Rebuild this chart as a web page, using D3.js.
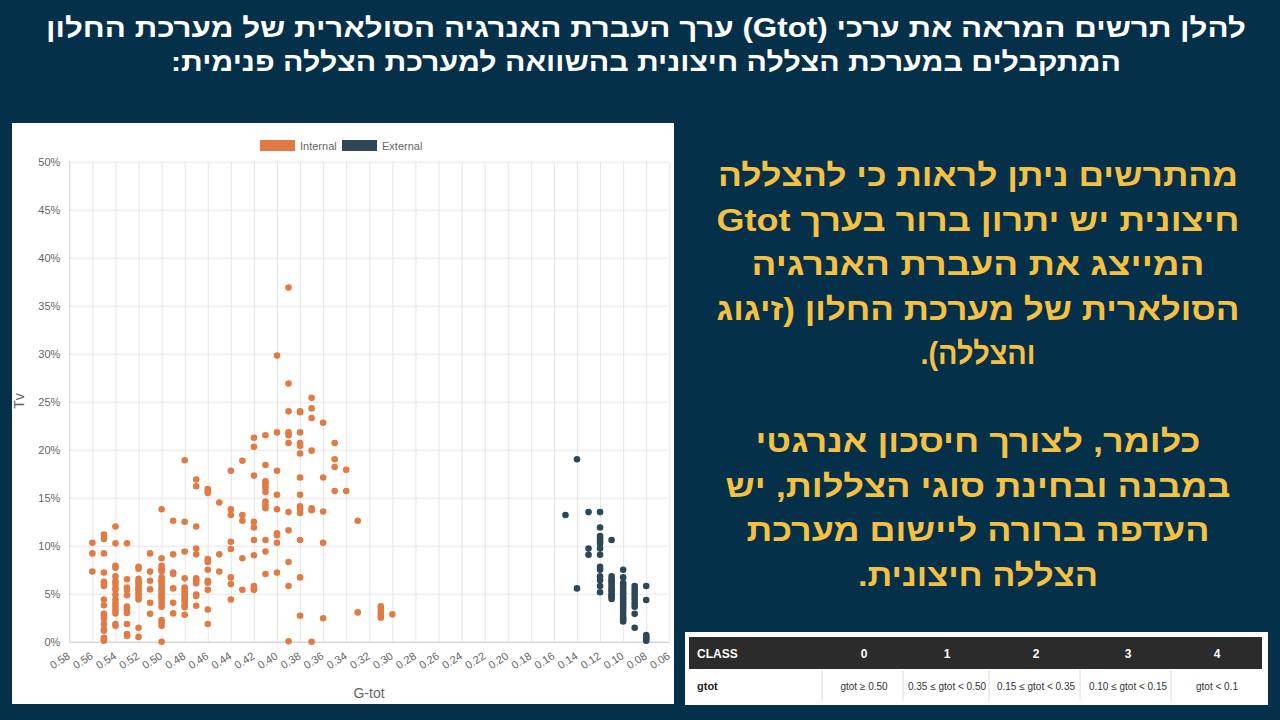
<!DOCTYPE html>
<html>
<head>
<meta charset="utf-8">
<script src="https://cdn.jsdelivr.net/npm/d3@7"></script>
<style>
  body { margin: 0; background: #05304a; }
  svg { display: block; }
  .tick text { font-family: "Liberation Sans", Arial, sans-serif; font-size: 11px; fill: #666; }
  .heb { font-family: "Liberation Sans", Arial, sans-serif; font-weight: bold; }
</style>
</head>
<body>
<div id="chart"></div>
<script>
// G-tot columns and the Tv (%) values read at each column
const internalGtot = [0.56, 0.55, 0.54, 0.53, 0.52, 0.51, 0.50, 0.49, 0.48, 0.47, 0.46, 0.45, 0.44, 0.43,
                      0.42, 0.41, 0.40, 0.39, 0.38, 0.37, 0.36, 0.35, 0.34, 0.33, 0.31, 0.30];
const internalTv = [
  [10.3, 9.2, 7.3],
  [11.15, 10.7, 9.2, 7.2, 6.25, 6.0, 5.8, 4.4, 3.8, 2.9, 2.7, 2.4, 1.85, 1.3, 1.15, 0.4, 0.25, 0.1],
  [12.0, 10.25, 7.9, 7.7, 6.8, 6.3, 6.0, 5.6, 5.4, 4.9, 4.4, 4.0, 3.65, 3.3, 2.95, 1.85, 1.65],
  [10.25, 6.5, 5.65, 5.4, 4.85, 3.65, 3.4, 3.0, 1.85, 0.8, 0.6],
  [7.8, 7.6, 6.55, 6.3, 6.1, 5.8, 5.55, 5.3, 5.0, 4.7, 4.4, 1.45, 0.5],
  [9.2, 7.3, 6.35, 5.45, 4.05, 2.9],
  [13.8, 8.7, 7.9, 7.6, 7.35, 6.7, 6.4, 6.15, 5.9, 5.65, 5.4, 5.15, 4.85, 4.6, 4.35, 4.0, 3.65, 2.25, 2.0, 1.65, 0.0],
  [12.6, 9.1, 7.2, 7.05, 5.55, 4.05, 2.95],
  [18.9, 12.5, 9.4, 6.6, 5.65, 5.45, 5.2, 4.95, 4.7, 4.4, 4.2, 3.8, 3.6, 2.8],
  [16.9, 16.2, 12.0, 9.7, 9.1, 6.6, 6.4, 6.1, 4.9, 4.75, 3.75],
  [15.9, 15.7, 15.5, 8.6, 8.3, 7.5, 6.35, 6.15, 5.4, 3.35, 1.85],
  [14.5, 9.1, 7.3],
  [17.8, 13.8, 13.2, 10.4, 9.65, 6.7, 6.0, 4.4],
  [18.85, 13.2, 12.6, 8.7, 5.4],
  [21.25, 20.3, 17.3, 12.5, 11.9, 10.6, 9.0, 5.8, 5.55, 5.4],
  [21.5, 18.4, 16.7, 16.5, 16.25, 16.0, 15.6, 14.6, 14.25, 13.9, 10.6, 9.4, 7.05],
  [29.8, 21.8, 17.8, 15.3, 13.8, 11.3, 11.1, 10.3, 7.2],
  [36.9, 26.9, 24.0, 21.8, 21.5, 20.7, 13.5, 11.6, 8.3, 5.8, 0.05],
  [24.0, 23.9, 21.8, 20.7, 20.4, 19.6, 17.1, 15.3, 14.1, 13.8, 13.4, 10.6, 6.7, 2.7],
  [25.4, 24.3, 23.3, 19.9, 13.9, 13.7, 0.0],
  [22.8, 17.1, 13.55, 10.3, 2.45],
  [20.7, 19.0, 18.2, 15.7],
  [17.9, 15.7],
  [12.6, 3.05],
  [3.7, 3.4, 3.05, 2.75, 2.5],
  [2.85]
];
const externalGtot = [0.15, 0.14, 0.13, 0.12, 0.11, 0.10, 0.09, 0.08];
const externalTv = [
  [13.2],
  [19.0, 5.55],
  [13.5, 9.7, 9.05],
  [13.5, 11.9, 11.0, 10.75, 10.45, 10.2, 9.7, 9.05, 7.8, 7.5, 6.8, 6.4, 5.8, 5.15],
  [10.6, 6.8, 6.5, 6.3, 6.05, 5.8, 5.55, 5.35, 5.1, 4.85, 4.65, 4.45],
  [7.5, 6.7, 6.1, 5.85, 5.6, 5.3, 5.05, 4.75, 4.5, 4.25, 4.0, 3.75, 3.5, 3.2, 2.9, 2.6, 2.35, 2.1],
  [5.8, 5.45, 5.1, 4.75, 4.4, 4.0, 3.65, 2.9, 1.45],
  [5.8, 4.35, 0.7, 0.5, 0.3, 0.1]
];
const xTicks = [0.58, 0.56, 0.54, 0.52, 0.50, 0.48, 0.46, 0.44, 0.42, 0.40, 0.38, 0.36, 0.34, 0.32,
                0.30, 0.28, 0.26, 0.24, 0.22, 0.20, 0.18, 0.16, 0.14, 0.12, 0.10, 0.08, 0.06];
const yTicks = [0, 5, 10, 15, 20, 25, 30, 35, 40, 45, 50];
const seriesNames = ["Internal", "External"];
const seriesColors = ["#e07b45", "#2e4756"];

const titleLines = [
  "להלן תרשים המראה את ערכי (Gtot) ערך העברת האנרגיה הסולארית של מערכת החלון",
  "המתקבלים במערכת הצללה חיצונית בהשוואה למערכת הצללה פנימית:"
];
const noteLines1 = [
  "מהתרשים ניתן לראות כי להצללה",
  "חיצונית יש יתרון ברור בערך  Gtot",
  "המייצג את העברת  האנרגיה",
  "הסולארית של מערכת  החלון (זיגוג",
  "והצללה)."
];
const noteLines2 = [
  "כלומר, לצורך חיסכון אנרגטי",
  "במבנה ובחינת סוגי הצללות, יש",
  "העדפה ברורה ליישום מערכת",
  "הצללה חיצונית."
];
// approximate rendered width of each note line in the slide
const noteWidths1 = [520, 523, 453, 523, 115];
const noteWidths2 = [445, 505, 463, 240];
const tableClasses = ["0", "1", "2", "3", "4"];
const tableRanges = ["gtot ≥ 0.50", "0.35 ≤ gtot < 0.50", "0.15 ≤ gtot < 0.35", "0.10 ≤ gtot < 0.15", "gtot < 0.1"];

const W = 1280, H = 720;
const svg = d3.select("#chart").append("svg").attr("width", W).attr("height", H);

// title
svg.selectAll(".title").data(titleLines).enter().append("text")
   .attr("class", "heb")
   .attr("direction", "rtl")
   .attr("x", 646)
   .attr("y", (d, i) => 37 + i * 34)
   .attr("text-anchor", "middle")
   .attr("fill", "#fff")
   .style("font-size", "27px")
   .attr("textLength", (d, i) => i === 0 ? 1200 : 950)
   .attr("lengthAdjust", "spacingAndGlyphs")
   .text(d => d);

// chart panel
svg.append("rect").attr("x", 12).attr("y", 123).attr("width", 662).attr("height", 581).attr("fill", "#fff");

const plot = { left: 69.3, right: 669.3, top: 161.7, bottom: 641.7 };
const xScale = d3.scaleLinear().domain([0.58, 0.06]).range([plot.left, plot.right]);
const yScale = d3.scaleLinear().domain([0, 50]).range([plot.bottom, plot.top]);

const yAxis = svg.append("g")
   .attr("transform", "translate(" + plot.left + ",0)")
   .call(d3.axisLeft(yScale).tickValues(yTicks).tickSize(-(plot.right - plot.left))
         .tickPadding(9).tickFormat(d => d + "%"));
yAxis.select(".domain").remove();
yAxis.selectAll("line").attr("stroke", "#e6e6e6");
yAxis.selectAll(".tick").filter(d => d === 0).select("line").attr("stroke", "#c4c4c4");

const xAxis = svg.append("g")
   .attr("transform", "translate(0," + plot.bottom + ")")
   .call(d3.axisBottom(xScale).tickValues(xTicks).tickSize(-(plot.bottom - plot.top))
         .tickFormat(d3.format(".2f")));
xAxis.select(".domain").remove();
xAxis.selectAll("line").attr("stroke", "#e6e6e6");
xAxis.selectAll(".tick").filter((d, i) => i === 0).select("line").attr("stroke", "#cfcfcf");
xAxis.selectAll("text")
   .attr("y", 0).attr("dy", "0.35em")
   .attr("transform", "translate(-1,13) rotate(-33)")
   .style("text-anchor", "end");

// axis titles
svg.append("text").attr("transform", "translate(24,401) rotate(-90)")
   .attr("text-anchor", "middle").attr("fill", "#666")
   .style("font-family", "Liberation Sans, Arial, sans-serif").style("font-size", "14px").text("Tv");
svg.append("text").attr("x", 369).attr("y", 698)
   .attr("text-anchor", "middle").attr("fill", "#666")
   .style("font-family", "Liberation Sans, Arial, sans-serif").style("font-size", "14px").text("G-tot");

// points
function drawSeries(cols, vals, color) {
  const pts = [];
  cols.forEach((g, i) => vals[i].forEach(v => pts.push({ g: g, v: v })));
  svg.append("g").selectAll("circle").data(pts).enter().append("circle")
     .attr("cx", d => xScale(d.g))
     .attr("cy", d => yScale(d.v))
     .attr("r", 3.3)
     .attr("fill", color);
}
drawSeries(internalGtot, internalTv, seriesColors[0]);
drawSeries(externalGtot, externalTv, seriesColors[1]);

// legend
const legend = svg.append("g").selectAll("g").data(seriesNames).enter().append("g")
   .attr("transform", (d, i) => "translate(" + (260 + i * 82) + ",140)");
legend.append("rect").attr("width", 35).attr("height", 11)
   .attr("fill", (d, i) => seriesColors[i]);
legend.append("text").attr("x", 40).attr("y", 9.5).attr("fill", "#666")
   .style("font-family", "Liberation Sans, Arial, sans-serif").style("font-size", "11px")
   .text(d => d);

// explanation text
function drawNote(lines, widths, y0, step) {
  svg.selectAll(null).data(lines).enter().append("text")
     .attr("class", "heb")
     .attr("direction", "rtl")
     .attr("x", 978)
     .attr("y", (d, i) => y0 + i * step)
     .attr("text-anchor", "middle")
     .attr("fill", "#f5c143")
     .style("font-size", "31px")
     .attr("textLength", (d, i) => widths[i])
     .attr("lengthAdjust", "spacingAndGlyphs")
     .text(d => d);
}
drawNote(noteLines1, noteWidths1, 186, 44.5);
drawNote(noteLines2, noteWidths2, 452, 44.5);

// class table
const tbl = svg.append("g");
tbl.append("rect").attr("x", 685).attr("y", 632).attr("width", 583).attr("height", 73).attr("fill", "#fff");
tbl.append("rect").attr("x", 689).attr("y", 637).attr("width", 573).attr("height", 32).attr("fill", "#2b2b2b");
const colEdges = [822, 903, 989, 1080, 1171];
colEdges.forEach(x => {
  tbl.append("line").attr("x1", x).attr("x2", x).attr("y1", 670).attr("y2", 701).attr("stroke", "#dcdcdc");
});
tbl.append("text").attr("x", 697).attr("y", 658).attr("fill", "#fff")
   .style("font-family", "Liberation Sans, Arial, sans-serif").style("font-weight", "bold").style("font-size", "12px")
   .text("CLASS");
tbl.append("text").attr("x", 697).attr("y", 690).attr("fill", "#222")
   .style("font-family", "Liberation Sans, Arial, sans-serif").style("font-weight", "bold").style("font-size", "11px")
   .text("gtot");
const centers = [864, 947, 1036, 1128, 1217];
tbl.selectAll(".cls").data(tableClasses).enter().append("text")
   .attr("x", (d, i) => centers[i]).attr("y", 658).attr("text-anchor", "middle").attr("fill", "#fff")
   .style("font-family", "Liberation Sans, Arial, sans-serif").style("font-weight", "bold").style("font-size", "12px")
   .text(d => d);
tbl.selectAll(".rng").data(tableRanges).enter().append("text")
   .attr("x", (d, i) => centers[i]).attr("y", 690).attr("text-anchor", "middle").attr("fill", "#333")
   .style("font-family", "Liberation Sans, Arial, sans-serif").style("font-size", "10px")
   .text(d => d);
</script>
</body>
</html>
